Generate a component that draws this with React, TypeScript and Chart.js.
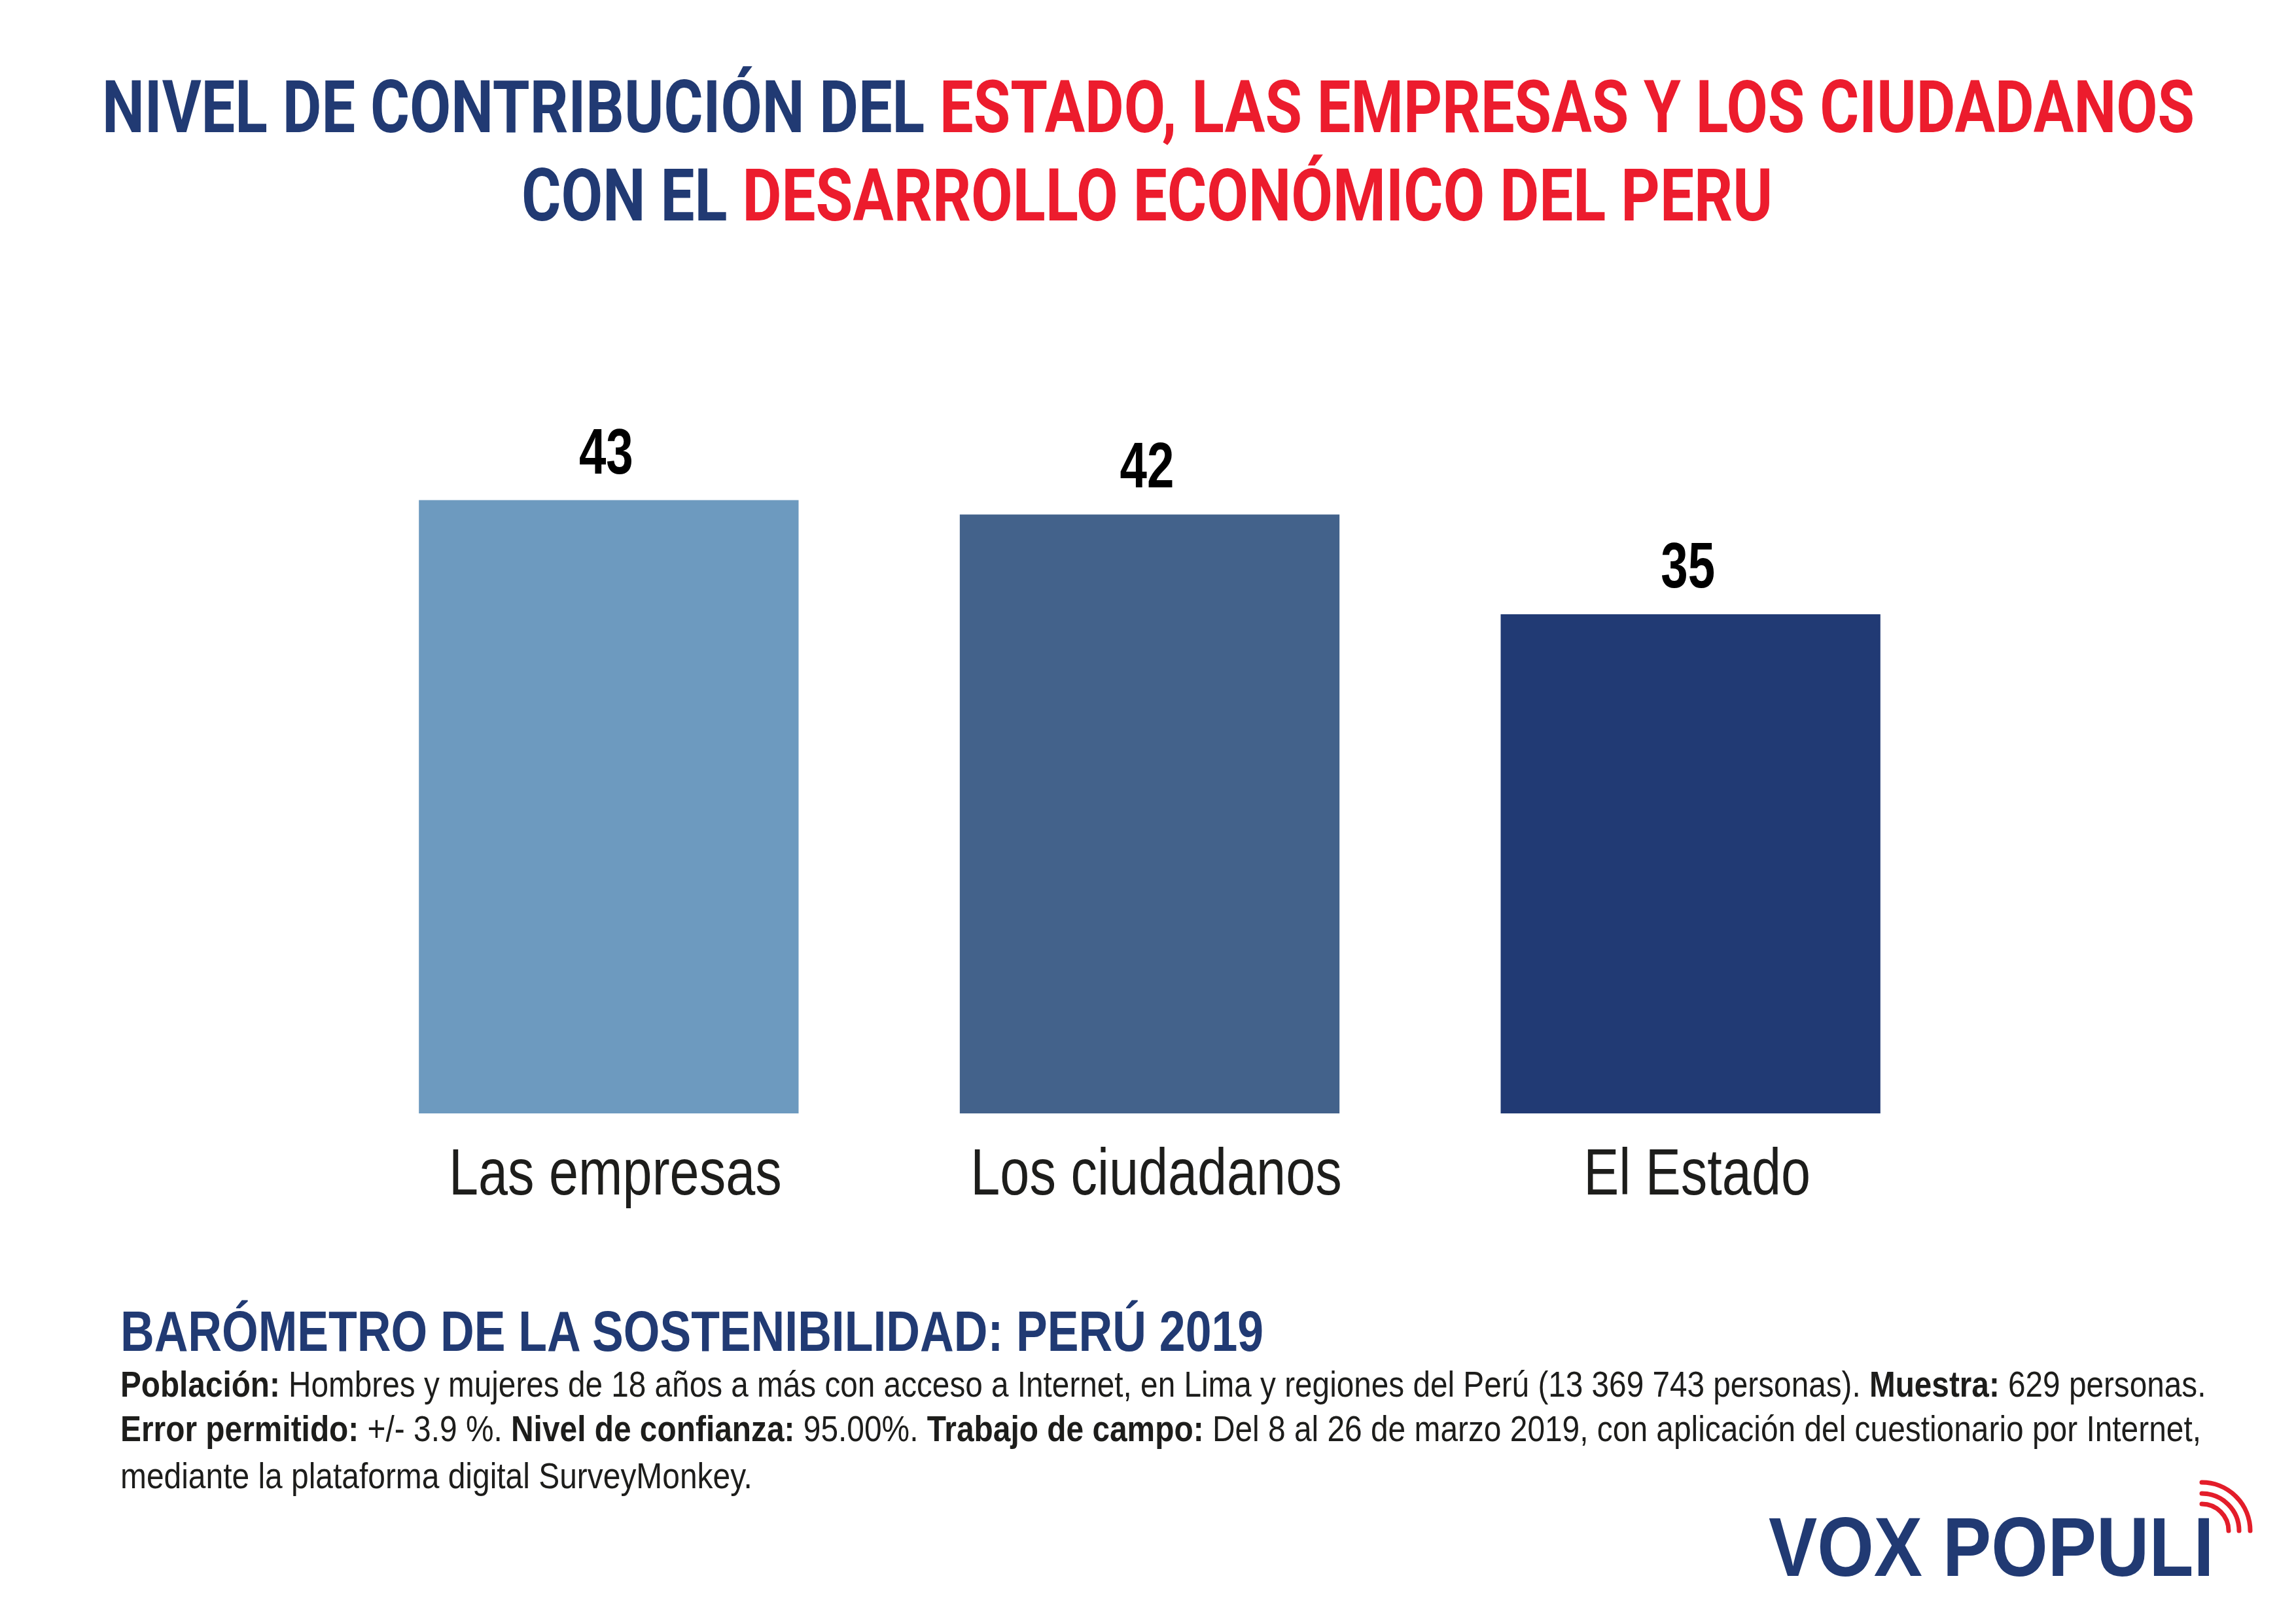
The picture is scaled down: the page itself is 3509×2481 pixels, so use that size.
import React, { useEffect, useLayoutEffect, useRef, useState } from "react";
import { Chart, registerables } from "chart.js";

Chart.register(...registerables);

// data
const categories = ["Las empresas", "Los ciudadanos", "El Estado"];
const values = [43, 42, 35];
const barColors = ["#6d9abf", "#43628b", "#213a74"];
const yMax = 50;

const NAVY = "#213a73";
const RED = "#ec1c2d";
const INK = "#1d1d1b";
const SANS = "'Liberation Sans', Arial, Helvetica, sans-serif";

// numbers above the bars, placed from the bar elements
const valueLabels = {
  id: "valueLabels",
  afterDatasetsDraw(chart: any) {
    const ctx = chart.ctx;
    const meta = chart.getDatasetMeta(0);
    ctx.save();
    ctx.fillStyle = "#000";
    ctx.font = `bold 98px ${SANS}`;
    ctx.textAlign = "center";
    ctx.textBaseline = "alphabetic";
    meta.data.forEach((bar: any, i: number) => {
      ctx.save();
      ctx.translate(bar.x - 4, bar.y - 41);
      ctx.scale(0.76, 1);
      ctx.fillText(String(values[i]), 0, 0);
      ctx.restore();
    });
    ctx.restore();
  },
};

// condensed category names, drawn at the x scale's tick positions
const categoryLabels = {
  id: "categoryLabels",
  afterDraw(chart: any) {
    const ctx = chart.ctx;
    const xScale = chart.scales.x;
    ctx.save();
    ctx.fillStyle = INK;
    ctx.font = `100px ${SANS}`;
    ctx.textAlign = "center";
    ctx.textBaseline = "alphabetic";
    chart.data.labels.forEach((label: string, i: number) => {
      ctx.save();
      ctx.translate(xScale.getPixelForTick(i) + 10, xScale.top + 124);
      ctx.scale(0.81, 1);
      ctx.fillText(label, 0, 0);
      ctx.restore();
    });
    ctx.restore();
  },
};

const FitLine: React.FC<{
  left: number;
  top: number;
  width: number;
  style?: React.CSSProperties;
  children: React.ReactNode;
}> = ({ left, top, width, style, children }) => {
  const ref = useRef<HTMLSpanElement | null>(null);
  const [sx, setSx] = useState(1);

  useLayoutEffect(() => {
    if (ref.current) setSx(width / ref.current.offsetWidth);
  }, [width]);

  return (
    <div style={{ position: "absolute", left, top, whiteSpace: "nowrap", lineHeight: 1, ...style }}>
      <span
        ref={ref}
        style={{ display: "inline-block", transform: `scaleX(${sx})`, transformOrigin: "0 0" }}
      >
        {children}
      </span>
    </div>
  );
};

const BarChart: React.FC = () => {
  const chartRef = useRef<HTMLCanvasElement | null>(null);

  useEffect(() => {
    if (!chartRef.current) return;
    const chart = new Chart(chartRef.current, {
      type: "bar",
      data: {
        labels: categories,
        datasets: [
          {
            data: values,
            backgroundColor: barColors,
            borderWidth: 0,
            barPercentage: 0.702,
            categoryPercentage: 1,
          },
        ],
      },
      options: {
        animation: false,
        responsive: true,
        maintainAspectRatio: false,
        layout: { padding: 0 },
        plugins: {
          legend: { display: false },
          tooltip: { enabled: false },
          title: { display: false },
        },
        scales: {
          x: {
            grid: { display: false, drawTicks: false },
            border: { display: false },
            ticks: {
              // space is kept by the axis, the text itself is drawn condensed by categoryLabels
              color: "rgba(0,0,0,0)",
              padding: 32,
              maxRotation: 0,
              autoSkip: false,
              font: { family: SANS, size: 100 },
            },
          },
          y: { display: false, min: 0, max: yMax },
        },
      },
      plugins: [valueLabels, categoryLabels],
    });

    return () => {
      chart.destroy();
    };
  }, []);

  return (
    <div style={{ position: "absolute", left: 517, top: 612, width: 2480, height: 1274 }}>
      <canvas ref={chartRef}></canvas>
    </div>
  );
};

const App: React.FC = () => {
  const titleStyle: React.CSSProperties = {
    fontFamily: "Roboto, 'DejaVu Sans', sans-serif",
    fontWeight: 700,
    fontSize: 112,
    color: NAVY,
  };
  const bodyStyle: React.CSSProperties = { fontFamily: SANS, fontSize: 56, color: INK };

  return (
    <div
      style={{
        position: "absolute",
        left: 0,
        top: 0,
        width: 3509,
        height: 2481,
        background: "#fff",
        overflow: "hidden",
      }}
    >
      <FitLine left={156} top={108} width={3198} style={titleStyle}>
        NIVEL DE CONTRIBUCIÓN DEL{" "}
        <span style={{ color: RED }}>ESTADO, LAS EMPRESAS Y LOS CIUDADANOS</span>
      </FitLine>
      <FitLine left={797} top={243} width={1912} style={titleStyle}>
        CON EL <span style={{ color: RED }}>DESARROLLO ECONÓMICO DEL PERU</span>
      </FitLine>

      <BarChart />

      <FitLine
        left={184}
        top={1991}
        width={1747}
        style={{ fontFamily: SANS, fontWeight: 700, fontSize: 88, color: NAVY }}
      >
        BARÓMETRO DE LA SOSTENIBILIDAD: PERÚ 2019
      </FitLine>
      <FitLine left={184} top={2088} width={3187} style={bodyStyle}>
        <b>Población:</b> Hombres y mujeres de 18 años a más con acceso a Internet, en Lima y regiones del
        Perú (13 369 743 personas). <b>Muestra:</b> 629 personas.
      </FitLine>
      <FitLine left={184} top={2156} width={3180} style={bodyStyle}>
        <b>Error permitido:</b> +/- 3.9 %. <b>Nivel de confianza:</b> 95.00%. <b>Trabajo de campo:</b> Del 8
        al 26 de marzo 2019, con aplicación del cuestionario por Internet,
      </FitLine>
      <FitLine left={184} top={2228} width={966} style={bodyStyle}>
        mediante la plataforma digital SurveyMonkey.
      </FitLine>

      <FitLine
        left={2703}
        top={2301}
        width={680}
        style={{ fontFamily: SANS, fontWeight: 700, fontSize: 128, color: NAVY }}
      >
        VOX POPULI
      </FitLine>
      <svg
        style={{ position: "absolute", left: 3300, top: 2240 }}
        width={160}
        height={130}
        viewBox="0 0 160 130"
      >
        {[41, 57, 74].map((r) => (
          <path
            key={r}
            d={`M 65 ${100 - r} A ${r} ${r} 0 0 1 ${65 + r} 100`}
            fill="none"
            stroke="#e31d2a"
            strokeWidth={7}
            strokeLinecap="round"
          />
        ))}
      </svg>
    </div>
  );
};

export default App;
